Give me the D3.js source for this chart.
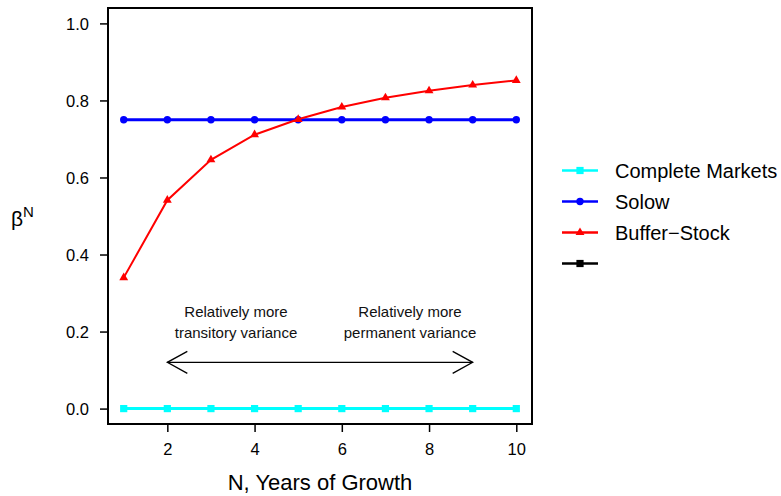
<!DOCTYPE html>
<html>
<head>
<meta charset="utf-8">
<script src="https://cdn.jsdelivr.net/npm/d3@7"></script>
<style>
  html, body { margin: 0; padding: 0; background: #fff; }
  svg { display: block; font-family: "Liberation Sans", Arial, Helvetica, sans-serif; }
</style>
</head>
<body>
<svg id="chart" width="781" height="496"></svg>
<script>
// ---- data ----
const years = [1, 2, 3, 4, 5, 6, 7, 8, 9, 10];
const completeMarkets = [0, 0, 0, 0, 0, 0, 0, 0, 0, 0];
const solow = [0.75, 0.75, 0.75, 0.75, 0.75, 0.75, 0.75, 0.75, 0.75, 0.75];
const bufferStock = [0.34, 0.541, 0.646, 0.711, 0.751, 0.783, 0.807, 0.825, 0.840, 0.852];
const xTicks = [2, 4, 6, 8, 10];
const yTicks = [0.0, 0.2, 0.4, 0.6, 0.8, 1.0];
const legendLabels = ["Complete Markets", "Solow", "Buffer\u2212Stock", ""];
const legendColors = ["#00ffff", "#0000ff", "#ff0000", "#000000"];
const legendShapes = ["square", "circle", "triangle", "square"];
const annotLeft = ["Relatively more", "transitory variance"];
const annotRight = ["Relatively more", "permanent variance"];
const arrowSpan = [2, 9];
const arrowY = 0.12;

const svg = d3.select("#chart");
const x = d3.scaleLinear().domain([0.64, 10.36]).range([108, 532]);
const y = d3.scaleLinear().domain([-0.04, 1.04]).range([424, 8]);

// box
svg.append("rect").attr("x", 108).attr("y", 8).attr("width", 424).attr("height", 416)
  .attr("fill", "none").attr("stroke", "#000").attr("stroke-width", 2);

// axes
const xAxis = svg.append("g").attr("transform", "translate(0,424)")
  .call(d3.axisBottom(x).tickValues(xTicks).tickFormat(d3.format("d")).tickSize(8).tickPadding(11));
const yAxis = svg.append("g").attr("transform", "translate(108,0)")
  .call(d3.axisLeft(y).tickValues(yTicks).tickFormat(d3.format(".1f")).tickSize(8).tickPadding(11));
[xAxis, yAxis].forEach(g => {
  g.select(".domain").remove();
  g.selectAll(".tick line").attr("stroke", "#000").attr("stroke-width", 1.5);
  g.selectAll(".tick text").attr("fill", "#000").style("font-size", "16.5px")
    .style("font-family", "'Liberation Sans', Arial, sans-serif");
});
yAxis.selectAll(".tick text").attr("dy", "0.36em");

// axis titles
svg.append("text").attr("x", 320).attr("y", 490).attr("text-anchor", "middle")
  .style("font-size", "22px").text("N, Years of Growth");
const yl = svg.append("text").attr("x", 11).attr("y", 226).style("font-size", "21px");
yl.append("tspan").text("\u03B2");
yl.append("tspan").attr("dy", -9).style("font-size", "15px").text("N");

// marker helper
function marker(g, shape, cx, cy, color) {
  if (shape === "circle") {
    g.append("circle").attr("cx", cx).attr("cy", cy).attr("r", 3.7).attr("fill", color);
  } else if (shape === "square") {
    g.append("rect").attr("x", cx - 3.6).attr("y", cy - 3.6).attr("width", 7.2).attr("height", 7.2).attr("fill", color);
  } else {
    const s = d3.symbol().type(d3.symbolTriangle).size(34);
    g.append("path").attr("d", s()).attr("transform", `translate(${cx},${cy})`).attr("fill", color);
  }
}

const series = [
  { vals: completeMarkets, color: legendColors[0], shape: "square", w: 3 },
  { vals: solow, color: legendColors[1], shape: "circle", w: 3 },
  { vals: bufferStock, color: legendColors[2], shape: "triangle", w: 2 }
];
const line = d3.line().x(d => x(d[0])).y(d => y(d[1]));
series.forEach(s => {
  const pts = years.map((yr, i) => [yr, s.vals[i]]);
  svg.append("path").attr("d", line(pts)).attr("fill", "none")
    .attr("stroke", s.color).attr("stroke-width", s.w);
  const g = svg.append("g");
  pts.forEach(p => marker(g, s.shape, x(p[0]), y(p[1]), s.color));
});

// arrow
const ay = y(arrowY), ax1 = x(arrowSpan[0]), ax2 = x(arrowSpan[1]);
const ag = svg.append("g").attr("stroke", "#000").attr("stroke-width", 1.3).attr("fill", "none");
ag.append("line").attr("x1", ax1).attr("y1", ay).attr("x2", ax2).attr("y2", ay);
ag.append("path").attr("d", `M${ax1 + 20},${ay - 11}L${ax1},${ay}L${ax1 + 20},${ay + 11}`);
ag.append("path").attr("d", `M${ax2 - 20},${ay - 11}L${ax2},${ay}L${ax2 - 20},${ay + 11}`);

// annotations
[[annotLeft, 236], [annotRight, 410]].forEach(([lines, cx]) => {
  lines.forEach((t, i) => {
    svg.append("text").attr("x", cx).attr("y", 317 + i * 21).attr("text-anchor", "middle")
      .style("font-size", "15px").attr("fill", "#111").text(t);
  });
});

// legend
legendLabels.forEach((lab, i) => {
  const ly = 170.5 + i * 31;
  const g = svg.append("g");
  g.append("line").attr("x1", 562).attr("x2", 598).attr("y1", ly).attr("y2", ly)
    .attr("stroke", legendColors[i]).attr("stroke-width", 2.5);
  marker(g, legendShapes[i], 580, ly, legendColors[i]);
  g.append("text").attr("x", 615).attr("y", ly + 7).style("font-size", "20px").text(lab);
});
</script>
</body>
</html>
